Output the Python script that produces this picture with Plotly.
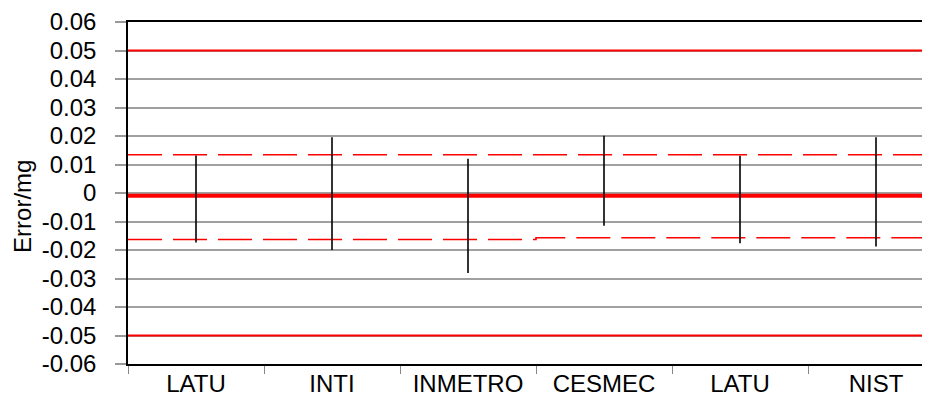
import plotly.graph_objects as go

categories = ["LATU", "INTI", "INMETRO", "CESMEC", "LATU", "NIST"]
err_high = [0.0132, 0.0196, 0.0120, 0.0201, 0.0131, 0.0196]
err_low = [-0.0174, -0.0200, -0.0281, -0.0115, -0.0176, -0.0188]
ref_value = -0.001
limit_upper = 0.05
limit_lower = -0.05
unc_upper = [0.0134, 0.0134, 0.0134, 0.0134, 0.0134, 0.0134]
unc_lower = [-0.0163, -0.0163, -0.0163, -0.0157, -0.0157, -0.0157]
y_ticks = [-0.06, -0.05, -0.04, -0.03, -0.02, -0.01, 0, 0.01, 0.02, 0.03, 0.04, 0.05, 0.06]
y_ticktext = ["-0.06", "-0.05", "-0.04", "-0.03", "-0.02", "-0.01", "0",
              "0.01", "0.02", "0.03", "0.04", "0.05", "0.06"]
y_title = "Error/mg"

n = len(categories)
xpos = list(range(n))
x_lo, x_hi = -0.5, 5.397

fig = go.Figure()

def step_xy(vals):
    xs, ys = [], []
    for i, v in enumerate(vals):
        xs += [i - 0.5, i + 0.5]
        ys += [v, v]
    return xs, ys

RED = "#FF0000"
for lim in (limit_upper, limit_lower):
    fig.add_trace(go.Scatter(x=[x_lo, x_hi + 0.2], y=[lim, lim], mode="lines",
                             line=dict(color=RED, width=2), showlegend=False, hoverinfo="skip"))

for vals in (unc_upper, unc_lower):
    xs, ys = step_xy(vals)
    fig.add_trace(go.Scatter(x=xs, y=ys, mode="lines",
                             line=dict(color=RED, width=1.6, dash="34px,11px"),
                             showlegend=False, hoverinfo="skip"))

fig.add_trace(go.Scatter(x=[x_lo, x_hi + 0.2], y=[ref_value, ref_value], mode="lines",
                         line=dict(color=RED, width=4), showlegend=False, hoverinfo="skip"))

ex, ey = [], []
for i in xpos:
    ex += [i, i, None]
    ey += [err_low[i], err_high[i], None]
fig.add_trace(go.Scatter(x=ex, y=ey, mode="lines", line=dict(color="black", width=1.6),
                         showlegend=False, connectgaps=False))

FONT = "Liberation Sans, Arial, sans-serif"
fig.update_layout(
    width=922, height=388,
    margin=dict(l=120, r=0, t=14, b=32),
    paper_bgcolor="white", plot_bgcolor="white",
    font=dict(family=FONT, size=24, color="black"),
    xaxis=dict(
        range=[x_lo, x_hi], tickmode="array", tickvals=xpos, ticktext=categories,
        ticks="", showgrid=False, zeroline=False, automargin=False,
        showline=True, linecolor="black", linewidth=1.5, mirror=True,
        tickfont=dict(size=24),
        minor=dict(tickmode="array", tickvals=[i - 0.5 for i in range(n + 1)],
                   ticks="outside", ticklen=8, tickcolor="#888888", tickwidth=1, showgrid=False),
        ticklabelstandoff=-3,
    ),
    yaxis=dict(
        range=[-0.06, 0.06], tickmode="array", tickvals=y_ticks, ticktext=y_ticktext,
        ticks="outside", ticklen=11, tickcolor="#999999", tickwidth=1.5,
        showgrid=True, gridcolor="#a0a0a0", gridwidth=1.5, zeroline=False, automargin=False,
        showline=True, linecolor="black", linewidth=1.5,
        tickfont=dict(size=24), ticklabelstandoff=14,
    ),
    annotations=[dict(text=y_title, xref="paper", yref="paper", x=-0.131, y=0.462,
                      xanchor="center", yanchor="middle", textangle=-90, showarrow=False,
                      font=dict(size=24, family=FONT, color="black"))],
)

fig.write_html("out.html")
